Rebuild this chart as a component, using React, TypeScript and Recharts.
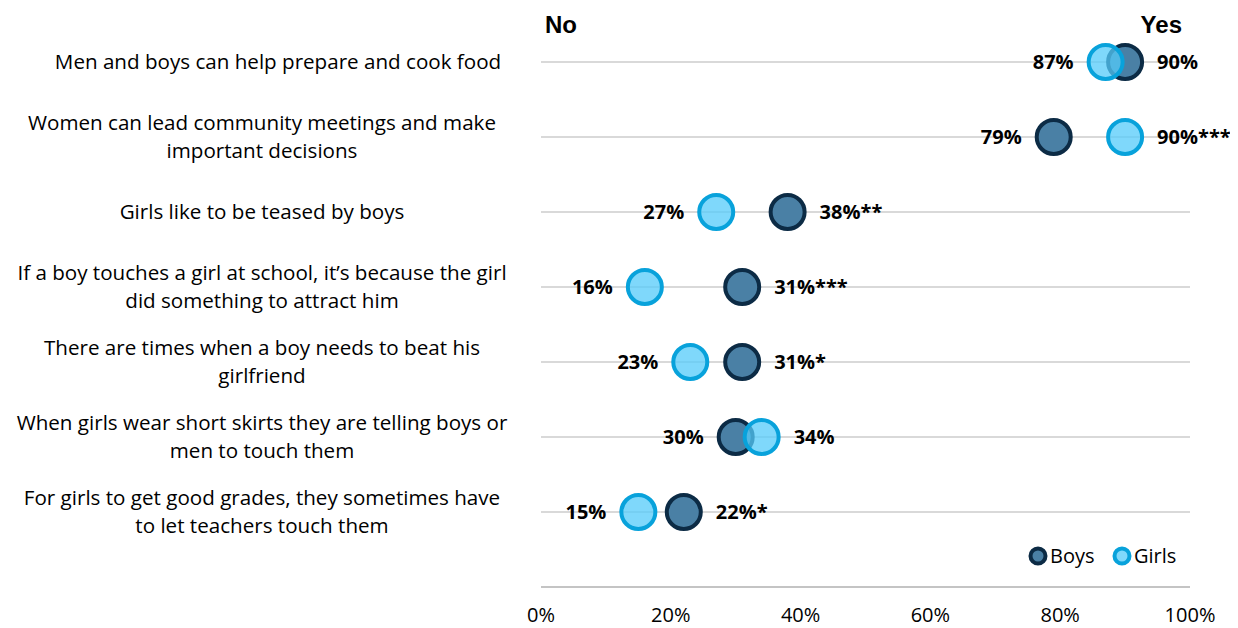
import React from 'react';
import { ScatterChart, Scatter, XAxis, YAxis, ReferenceLine } from 'recharts';

const statements: string[][] = [
  ['Men and boys can help prepare and cook food'],
  ['Women can lead community meetings and make', 'important decisions'],
  ['Girls like to be teased by boys'],
  ['If a boy touches a girl at school, it\u2019s because the girl', 'did something to attract him'],
  ['There are times when a boy needs to beat his', 'girlfriend'],
  ['When girls wear short skirts they are telling boys or', 'men to touch them'],
  ['For girls to get good grades, they sometimes have', 'to let teachers touch them'],
];
const boysValues = [90, 79, 38, 31, 31, 30, 22];
const girlsValues = [87, 90, 27, 16, 23, 34, 15];
const significance = ['', '***', '**', '***', '*', '', '*'];
const xTicks = [0, 20, 40, 60, 80, 100];

const FONT = '"Open Sans", "Noto Sans", sans-serif';
const FS = 20;
const BOYS_STROKE = '#0c2b45';
const BOYS_FILL = '#4a80a5';
const GIRLS_STROKE = '#08a2db';
const GIRLS_FILL = '#54cbfa';

const build = (own: number[], other: number[]) =>
  own.map((v, i) => {
    const right = v >= other[i] && !(v === other[i] && own === girlsValues);
    return {
      x: v,
      y: i,
      side: right ? 'right' : 'left',
      label: `${v}%` + (right ? significance[i] : ''),
    };
  });

const boysData = build(boysValues, girlsValues);
const girlsData = build(girlsValues, boysValues);

const makeShape = (stroke: string, fill: string, opacity: number) => (props: any) => {
  const { cx, cy, payload } = props;
  const right = payload.side === 'right';
  return (
    <g>
      <circle cx={cx} cy={cy} r={17} fill={fill} fillOpacity={opacity} stroke={stroke} strokeWidth={4} />
      <text
        x={right ? cx + 32 : cx - 32}
        y={cy}
        dy="0.35em"
        textAnchor={right ? 'start' : 'end'}
        fontFamily={FONT}
        fontWeight={700}
        fontSize={FS}
        fill="#000"
      >
        {payload.label}
      </text>
    </g>
  );
};

const YTick = (props: any) => {
  const { y, payload } = props;
  const lines = statements[payload.value] || [];
  const off = lines.length > 1 ? -14 : 0;
  const cxText = payload.value === 0 ? 270 : 254;
  return (
    <text x={cxText} y={y} textAnchor="middle" fontFamily={FONT} fontSize={20.6} fill="#000">
      {lines.map((l, k) => (
        <tspan key={k} x={cxText} y={y + off + k * 28} dy="0.35em">
          {l}
        </tspan>
      ))}
    </text>
  );
};

const XTick = (props: any) => {
  const { x, y, payload } = props;
  return (
    <text x={x} y={y + 28} dy="0.35em" textAnchor="middle" fontFamily={FONT} fontSize={20} fill="#000">
      {`${payload.value}%`}
    </text>
  );
};

export default function App() {
  return (
    <div style={{ position: 'relative', width: 1230, height: 620 }}>
      <ScatterChart width={1230} height={620} margin={{ top: 16.5, right: 48, left: 0, bottom: 0 }}>
        <XAxis
          type="number"
          dataKey="x"
          domain={[0, 100]}
          ticks={xTicks}
          tick={<XTick />}
          tickLine={false}
          tickSize={0}
          tickMargin={0}
          height={41}
          axisLine={{ stroke: '#c4c4c4', strokeWidth: 2 }}
          interval={0}
        />
        <YAxis
          type="number"
          dataKey="y"
          domain={[-0.5, 7]}
          reversed
          ticks={[0, 1, 2, 3, 4, 5, 6]}
          tick={<YTick />}
          tickLine={false}
          axisLine={false}
          width={533}
          interval={0}
        />
        {statements.map((_, i) => (
          <ReferenceLine key={i} y={i} stroke="#d9d9d9" strokeWidth={2} />
        ))}
        <Scatter
          name="Boys"
          data={boysData}
          isAnimationActive={false}
          shape={makeShape(BOYS_STROKE, BOYS_FILL, 1)}
        />
        <Scatter
          name="Girls"
          data={girlsData}
          isAnimationActive={false}
          shape={makeShape(GIRLS_STROKE, GIRLS_FILL, 0.75)}
        />
      </ScatterChart>
      <svg
        width={1230}
        height={620}
        style={{ position: 'absolute', left: 0, top: 0, pointerEvents: 'none' }}
      >
        <text x={537} y={17} dy="0.35em" fontFamily='"Liberation Sans", Arial, sans-serif' fontWeight={700} fontSize={24} fill="#000">
          No
        </text>
        <text x={1174} y={17} dy="0.35em" textAnchor="end" fontFamily='"Liberation Sans", Arial, sans-serif' fontWeight={700} fontSize={24} fill="#000">
          Yes
        </text>
        <g>
          <circle cx={1030} cy={548} r={7.5} fill={BOYS_FILL} stroke={BOYS_STROKE} strokeWidth={4} />
          <text x={1042} y={548} dy="0.35em" fontFamily={FONT} fontSize={FS} fill="#000">Boys</text>
          <circle cx={1114} cy={548} r={7.5} fill="#7fd8fb" stroke={GIRLS_STROKE} strokeWidth={4} />
          <text x={1126} y={548} dy="0.35em" fontFamily={FONT} fontSize={FS} fill="#000">Girls</text>
        </g>
      </svg>
    </div>
  );
}
